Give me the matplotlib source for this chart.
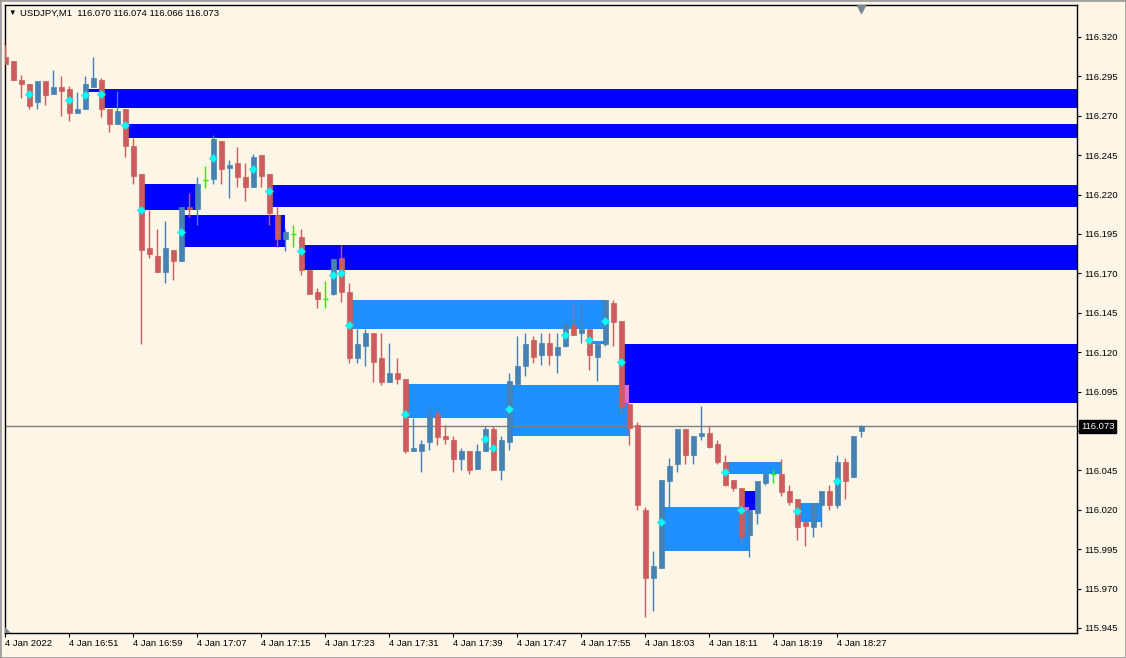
import matplotlib
matplotlib.use("Agg")
import matplotlib.pyplot as plt
from matplotlib.patches import Rectangle, Polygon
from matplotlib.transforms import blended_transform_factory

plt.rcParams['font.family'] = ['Liberation Sans', 'DejaVu Sans']

# USDJPY M1 candles (bar index 0 = 16:43)
opens = [116.307, 116.305, 116.293, 116.290, 116.279, 116.292, 116.284, 116.288, 116.287, 116.272,
         116.274, 116.288, 116.293, 116.274, 116.265, 116.274, 116.251, 116.233, 116.186, 116.181,
         116.171, 116.185, 116.178, 116.212, 116.211, 116.229, 116.230, 116.254, 116.237, 116.240,
         116.231, 116.225, 116.245, 116.233, 116.207, 116.192, 116.195, 116.193, 116.172, 116.158,
         116.154, 116.157, 116.180, 116.158, 116.116, 116.124, 116.132, 116.116, 116.101, 116.107,
         116.103, 116.057, 116.057, 116.063, 116.081, 116.067, 116.064, 116.052, 116.057, 116.046,
         116.057, 116.071, 116.045, 116.063, 116.100, 116.111, 116.128, 116.118, 116.126, 116.118,
         116.124, 116.137, 116.132, 116.135, 116.117, 116.125, 116.151, 116.140, 116.087, 116.074,
         116.020, 115.977, 115.983, 116.038, 116.049, 116.071, 116.055, 116.067, 116.069, 116.062,
         116.050, 116.039, 116.034, 116.004, 116.018, 116.037, 116.043, 116.043, 116.032, 116.027,
         116.012, 116.009, 116.023, 116.032, 116.023, 116.050, 116.041, 116.070]
highs = [116.315, 116.305, 116.296, 116.290, 116.292, 116.292, 116.299, 116.295, 116.289, 116.285,
         116.295, 116.307, 116.294, 116.274, 116.286, 116.274, 116.256, 116.233, 116.210, 116.198,
         116.203, 116.185, 116.212, 116.221, 116.231, 116.238, 116.258, 116.254, 116.242, 116.250,
         116.240, 116.246, 116.245, 116.233, 116.212, 116.198, 116.201, 116.198, 116.172, 116.161,
         116.165, 116.179, 116.188, 116.164, 116.135, 116.135, 116.132, 116.132, 116.126, 116.116,
         116.103, 116.078, 116.064, 116.085, 116.083, 116.074, 116.067, 116.059, 116.057, 116.062,
         116.073, 116.073, 116.067, 116.107, 116.130, 116.132, 116.130, 116.132, 116.132, 116.132,
         116.139, 116.151, 116.151, 116.135, 116.125, 116.153, 116.153, 116.140, 116.087, 116.076,
         116.022, 115.994, 116.039, 116.053, 116.071, 116.071, 116.067, 116.086, 116.073, 116.064,
         116.055, 116.039, 116.034, 116.020, 116.038, 116.044, 116.046, 116.052, 116.036, 116.027,
         116.012, 116.024, 116.032, 116.036, 116.055, 116.053, 116.067, 116.074]
lows = [116.303, 116.293, 116.281, 116.274, 116.274, 116.277, 116.284, 116.270, 116.267, 116.272,
        116.274, 116.288, 116.269, 116.260, 116.265, 116.244, 116.227, 116.125, 116.180, 116.171,
        116.164, 116.166, 116.178, 116.206, 116.201, 116.224, 116.227, 116.227, 116.218, 116.225,
        116.216, 116.225, 116.225, 116.201, 116.187, 116.184, 116.187, 116.169, 116.157, 116.148,
        116.148, 116.156, 116.152, 116.113, 116.113, 116.111, 116.101, 116.099, 116.101, 116.100,
        116.056, 116.057, 116.044, 116.058, 116.061, 116.062, 116.044, 116.045, 116.043, 116.046,
        116.057, 116.045, 116.039, 116.058, 116.099, 116.105, 116.113, 116.112, 116.112, 116.107,
        116.123, 116.131, 116.126, 116.109, 116.102, 116.124, 116.124, 116.081, 116.061, 116.020,
        115.952, 115.956, 115.983, 116.022, 116.044, 116.049, 116.049, 116.064, 116.059, 116.049,
        116.035, 116.032, 115.999, 115.990, 116.011, 116.036, 116.037, 116.029, 116.023, 116.001,
        115.997, 116.003, 116.009, 116.020, 116.021, 116.027, 116.041, 116.066]
closes = [116.303, 116.293, 116.290, 116.276, 116.292, 116.283, 116.288, 116.286, 116.272, 116.274,
          116.290, 116.294, 116.274, 116.265, 116.273, 116.251, 116.232, 116.185, 116.182, 116.171,
          116.186, 116.178, 116.212, 116.211, 116.227, 116.229, 116.255, 116.236, 116.239, 116.231,
          116.225, 116.244, 116.232, 116.208, 116.192, 116.196, 116.195, 116.172, 116.157, 116.154,
          116.154, 116.179, 116.158, 116.116, 116.125, 116.132, 116.114, 116.101, 116.107, 116.103,
          116.057, 116.059, 116.062, 116.080, 116.066, 116.065, 116.052, 116.057, 116.045, 116.057,
          116.071, 116.045, 116.064, 116.102, 116.111, 116.125, 116.117, 116.126, 116.118, 116.123,
          116.137, 116.131, 116.135, 116.118, 116.125, 116.153, 116.139, 116.085, 116.072, 116.023,
          115.977, 115.984, 116.039, 116.048, 116.071, 116.055, 116.067, 116.069, 116.060, 116.050,
          116.036, 116.034, 116.003, 116.020, 116.038, 116.043, 116.043, 116.031, 116.025, 116.009,
          116.010, 116.024, 116.032, 116.023, 116.050, 116.038, 116.067, 116.073]

# supply / demand rectangles: start bar, end bar, top, bottom
blue_x0 = [10.3, 12, 15, 17, 22, 33, 37, 77, 92]
blue_x1 = [12, 140, 140, 24, 35, 140, 140, 140, 94]
blue_top = [116.287, 116.287, 116.265, 116.227, 116.207, 116.226, 116.188, 116.125, 116.032]
blue_bot = [116.285, 116.275, 116.256, 116.210, 116.187, 116.212, 116.172, 116.088, 116.020]

light_x0 = [43, 73, 50, 63, 82, 90, 99]
light_x1 = [75, 75, 63, 78, 93, 97, 102]
light_top = [116.153, 116.127, 116.100, 116.099, 116.022, 116.050, 116.024]
light_bot = [116.135, 116.125, 116.078, 116.067, 115.994, 116.043, 116.012]

mix_x0 = [77, 92]
mix_x1 = [78, 93]
mix_top = [116.099, 116.022]
mix_bot = [116.088, 116.020]

# signal arrows (cyan)
sig_idx = [3, 8, 10, 12, 15, 17, 22, 26, 31, 33, 37, 41, 42, 43, 50, 60, 61, 63, 70, 73, 75, 77,
           82, 90, 92, 99, 104]
sig_price = [116.284, 116.280, 116.283, 116.284, 116.264, 116.210, 116.196, 116.243, 116.236,
             116.222, 116.184, 116.169, 116.170, 116.137, 116.081, 116.065, 116.059, 116.084,
             116.131, 116.128, 116.140, 116.114, 116.012, 116.044, 116.020, 116.019, 116.038]

time_ticks = list(range(0, 105, 8))
time_labels = ['4 Jan 2022', '4 Jan 16:51', '4 Jan 16:59', '4 Jan 17:07', '4 Jan 17:15',
               '4 Jan 17:23', '4 Jan 17:31', '4 Jan 17:39', '4 Jan 17:47', '4 Jan 17:55',
               '4 Jan 18:03', '4 Jan 18:11', '4 Jan 18:19', '4 Jan 18:27']
price_ticks = [115.945 + 0.025 * k for k in range(16)]
last_price = 116.073

bg = '#FDF5E6'
bull = '#4682B4'
bear = '#CD5C5C'
doji = '#00FF00'

fig = plt.figure(figsize=(11.26, 6.58), dpi=100, facecolor=bg)
ax = fig.add_axes([5 / 1126, 25 / 658, 1072 / 1126, 628 / 658])
ax.set_facecolor(bg)
ax.set_xlim(-0.04, 133.96)
ax.set_ylim(115.9418, 116.3403)

for x0, x1, t, b in zip(blue_x0, blue_x1, blue_top, blue_bot):
    ax.add_patch(Rectangle((x0, b), x1 - x0, t - b, facecolor='#0000FF', edgecolor='none', zorder=1))
for x0, x1, t, b in zip(light_x0, light_x1, light_top, light_bot):
    ax.add_patch(Rectangle((x0, b), x1 - x0, t - b, facecolor='#1E90FF', edgecolor='none', zorder=1))
for x0, x1, t, b in zip(mix_x0, mix_x1, mix_top, mix_bot):
    ax.add_patch(Rectangle((x0, b), x1 - x0, t - b, facecolor='#E066E6', edgecolor='none', zorder=1.1))

ax.axhline(last_price, color='#808080', lw=1, zorder=2)

# candles
for i, (o, h, l, c) in enumerate(zip(opens, highs, lows, closes)):
    if c > o:
        col = bull
    elif c < o:
        col = bear
    else:
        col = doji
    ax.vlines(i, l, h, colors=col, lw=1, zorder=3)
    if col == doji:
        ax.hlines(o, i - 0.31, i + 0.31, colors=col, lw=1, zorder=3)
    else:
        ax.bar(i, abs(c - o), bottom=min(o, c), width=0.625, color=col,
               edgecolor=col, linewidth=0.5, zorder=3)

ax.plot(sig_idx, sig_price, linestyle='none', marker='D', ms=4.5,
        mfc='#00FFFF', mec='#2ED8D8', mew=0.6, zorder=4)

# axes styling
for s in ax.spines.values():
    s.set_color('black')
    s.set_linewidth(1)
ax.yaxis.tick_right()
ax.set_yticks(price_ticks)
ax.set_yticklabels(['%.3f' % p for p in price_ticks])
ax.tick_params(axis='y', length=3, width=0.8, pad=2, labelsize=6.8, colors='black')
ax.set_xticks(time_ticks)
ax.set_xticklabels(time_labels, ha='left')
ax.tick_params(axis='x', length=3, width=0.8, pad=1.5, labelsize=6.8, colors='black')

trans = blended_transform_factory(ax.transAxes, ax.transData)
ax.text(1.0 + 4 / 1072, last_price, '116.073', transform=trans, ha='left', va='center',
        color='white', fontsize=6.8, zorder=10, clip_on=False,
        bbox=dict(boxstyle='square,pad=0.2', facecolor='black', edgecolor='black'))

# title line
fig.text(8 / 1126, 1 - 13 / 658, '\u25bc', fontsize=5.5, color='black', va='center')
fig.text(20 / 1126, 1 - 13 / 658, 'USDJPY,M1  116.070 116.074 116.066 116.073',
         fontsize=6.8, color='black', va='center')

# chart shift markers
ttop = blended_transform_factory(ax.transData, ax.transAxes)
ax.plot([107], [0.993], marker='v', ms=6, color='#778899', transform=ttop, clip_on=False, zorder=6)
ax.add_patch(Polygon([[0, 0], [0, 6 / 628], [6 / 1072, 0]], closed=True,
                     transform=ax.transAxes, facecolor='#778899', edgecolor='none', zorder=6))

fig.patches.append(Rectangle((0, 0), 1, 1, transform=fig.transFigure, fill=False,
                             edgecolor='#A0A0A0', linewidth=2))

fig.savefig('out.png', dpi=100, facecolor=bg)
